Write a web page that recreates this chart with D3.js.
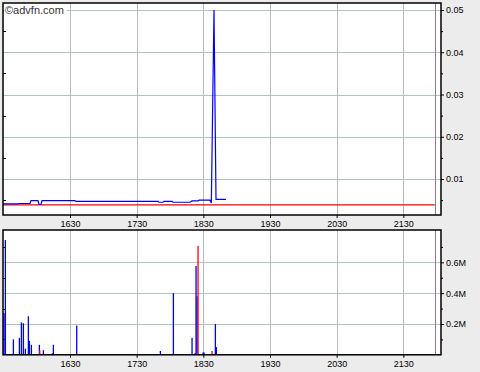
<!DOCTYPE html>
<html>
<head>
<meta charset="utf-8">
<script src="https://cdn.jsdelivr.net/npm/d3@7"></script>
<style>
  html, body { margin: 0; padding: 0; background: #ececec; }
  #chart text { font-family: "Liberation Sans", Arial, sans-serif; font-size: 9px; fill: #000; }
</style>
</head>
<body>
<div id="chart"></div>
<script>
// price series (step-like trace)
const priceTimes  = [1529.5, 1552, 1553.5, 1570, 1571.5, 1582, 1583.5, 1586.5, 1588, 1637.5, 1639, 1762, 1763.5, 1769.5, 1771, 1783, 1784.5, 1810, 1813, 1822, 1823.5, 1840, 1842, 1846, 1849, 1864];
const priceValues = [0.0041, 0.0041, 0.0042, 0.0042, 0.0049, 0.0049, 0.0040, 0.0040, 0.0049, 0.0049, 0.0047, 0.0047, 0.0045, 0.0045, 0.0047, 0.0047, 0.0045, 0.0045, 0.0048, 0.0048, 0.0050, 0.0050, 0.0043, 0.0500, 0.0052, 0.0052];
const refPrice = 0.0039;

// volume bars
const volUpTimes    = [1531, 1533, 1545, 1554, 1557, 1560, 1563, 1567.5, 1569, 1572, 1584, 1590, 1603.5, 1605, 1640, 1765.5, 1785, 1813, 1817.5, 1819, 1820.5, 1829.5, 1831, 1848, 1849.5];
const volUpValues   = [270000, 745000, 100000, 110000, 210000, 205000, 40000, 250000, 90000, 65000, 65000, 30000, 10000, 65000, 190000, 25000, 400000, 110000, 10000, 577000, 380000, 15000, 15000, 200000, 50000];
const volDownTimes  = [1584.5, 1822, 1843];
const volDownValues = [30000, 707000, 25000];

const xTicks = [1630, 1730, 1830, 1930, 2030, 2130];
const markerTime = 2177;
const priceTicks = [0.01, 0.02, 0.03, 0.04, 0.05];
const priceMinor = [0.005, 0.015, 0.025, 0.035, 0.045];
const volTicks = [200000, 400000, 600000];
const volMinor = [100000, 300000, 500000, 700000];

const width = 480, height = 372;
const left = 3, right = 441;
const top1 = 3, bottom1 = 215;
const top2 = 230, bottom2 = 354.8;
const gridColor = "#adc4c4";

const svg = d3.select("#chart")
  .append("svg")
  .attr("width", width)
  .attr("height", height);

const x = d3.scaleLinear().domain([1529.5, 2186.5]).range([left, right]);
const yPrice = d3.scaleLinear().domain([0.00148, 0.05166]).range([bottom1, top1]);
const yVol = d3.scaleLinear().domain([0, 810000]).range([bottom2, top2]);

function panel(top, bottom, y, ticks, minor, fmt) {
  const g = svg.append("g");

  g.append("rect")
    .attr("x", left).attr("y", top)
    .attr("width", right - left).attr("height", bottom - top)
    .attr("fill", "#fff");

  g.selectAll("line.hgrid").data(ticks).enter()
    .append("line")
    .attr("class", "hgrid")
    .attr("x1", left).attr("x2", right)
    .attr("y1", d => Math.round(y(d)) + 0.5).attr("y2", d => Math.round(y(d)) + 0.5)
    .attr("stroke", gridColor);

  g.selectAll("line.vgrid").data(xTicks).enter()
    .append("line")
    .attr("class", "vgrid")
    .attr("x1", d => Math.round(x(d)) + 0.5).attr("x2", d => Math.round(x(d)) + 0.5)
    .attr("y1", top).attr("y2", bottom)
    .attr("stroke", "#b4bcbc");

  g.append("line")
    .attr("x1", Math.round(x(markerTime)) + 0.5).attr("x2", Math.round(x(markerTime)) + 0.5)
    .attr("y1", top).attr("y2", bottom)
    .attr("stroke", "#8a7c80");

  // left minor ticks
  g.selectAll("line.lminor").data(minor).enter()
    .append("line")
    .attr("x1", left).attr("x2", left + 3)
    .attr("y1", d => Math.round(y(d)) + 0.5).attr("y2", d => Math.round(y(d)) + 0.5)
    .attr("stroke", "#000");

  const xAxis = g.append("g")
    .attr("transform", `translate(0,${bottom})`)
    .call(d3.axisBottom(x).tickValues(xTicks).tickSize(3).tickPadding(3).tickFormat(d3.format("d")));
  xAxis.select(".domain").remove();

  const yAxis = g.append("g")
    .attr("transform", `translate(${right},0)`)
    .call(d3.axisRight(y).tickValues(ticks).tickSize(3).tickPadding(2).tickFormat(fmt));
  yAxis.select(".domain").remove();

  const yMinor = g.append("g")
    .attr("transform", `translate(${right},0)`)
    .call(d3.axisRight(y).tickValues(minor).tickSize(2).tickFormat(""));
  yMinor.select(".domain").remove();

  return g;
}

const g1 = panel(top1, bottom1, yPrice, priceTicks, priceMinor, d3.format(".2f"));
const g2 = panel(top2, bottom2, yVol, volTicks, volMinor, d => d3.format(".1f")(d / 1e6) + "M");

// reference line
g1.append("line")
  .attr("x1", left).attr("x2", x(markerTime))
  .attr("y1", yPrice(refPrice)).attr("y2", yPrice(refPrice))
  .attr("stroke", "#ff0000")
  .attr("stroke-width", 1.2);

// price line
const line = d3.line()
  .x((d, i) => x(priceTimes[i]))
  .y(d => yPrice(d));

g1.append("path")
  .attr("d", line(priceValues))
  .attr("fill", "none")
  .attr("stroke", "#0000ff")
  .attr("stroke-width", 1.2);

// volume bars
g2.selectAll("rect.up").data(volUpValues).enter()
  .append("rect")
  .attr("class", "up")
  .attr("x", (d, i) => x(volUpTimes[i]) - 0.6)
  .attr("y", d => yVol(d))
  .attr("width", 1.3)
  .attr("height", d => yVol(0) - yVol(d))
  .attr("fill", "#0000ff");

g2.selectAll("rect.down").data(volDownValues).enter()
  .append("rect")
  .attr("class", "down")
  .attr("x", (d, i) => x(volDownTimes[i]) - 0.6)
  .attr("y", d => yVol(d))
  .attr("width", 1.3)
  .attr("height", d => yVol(0) - yVol(d))
  .attr("fill", "#ff0000");

// frames
[[top1, bottom1], [top2, bottom2]].forEach(([t, b]) => {
  svg.append("rect")
    .attr("x", left).attr("y", t)
    .attr("width", right - left).attr("height", b - t)
    .attr("fill", "none")
    .attr("stroke", "#000")
    .attr("stroke-width", 1.5);
});

// copyright
svg.append("rect")
  .attr("x", 4.5).attr("y", 5)
  .attr("width", 62).attr("height", 10)
  .attr("fill", "#fff");
svg.append("text")
  .attr("x", 5).attr("y", 14)
  .style("font-size", "11px")
  .style("fill", "#333")
  .text("©advfn.com");
</script>
</body>
</html>
